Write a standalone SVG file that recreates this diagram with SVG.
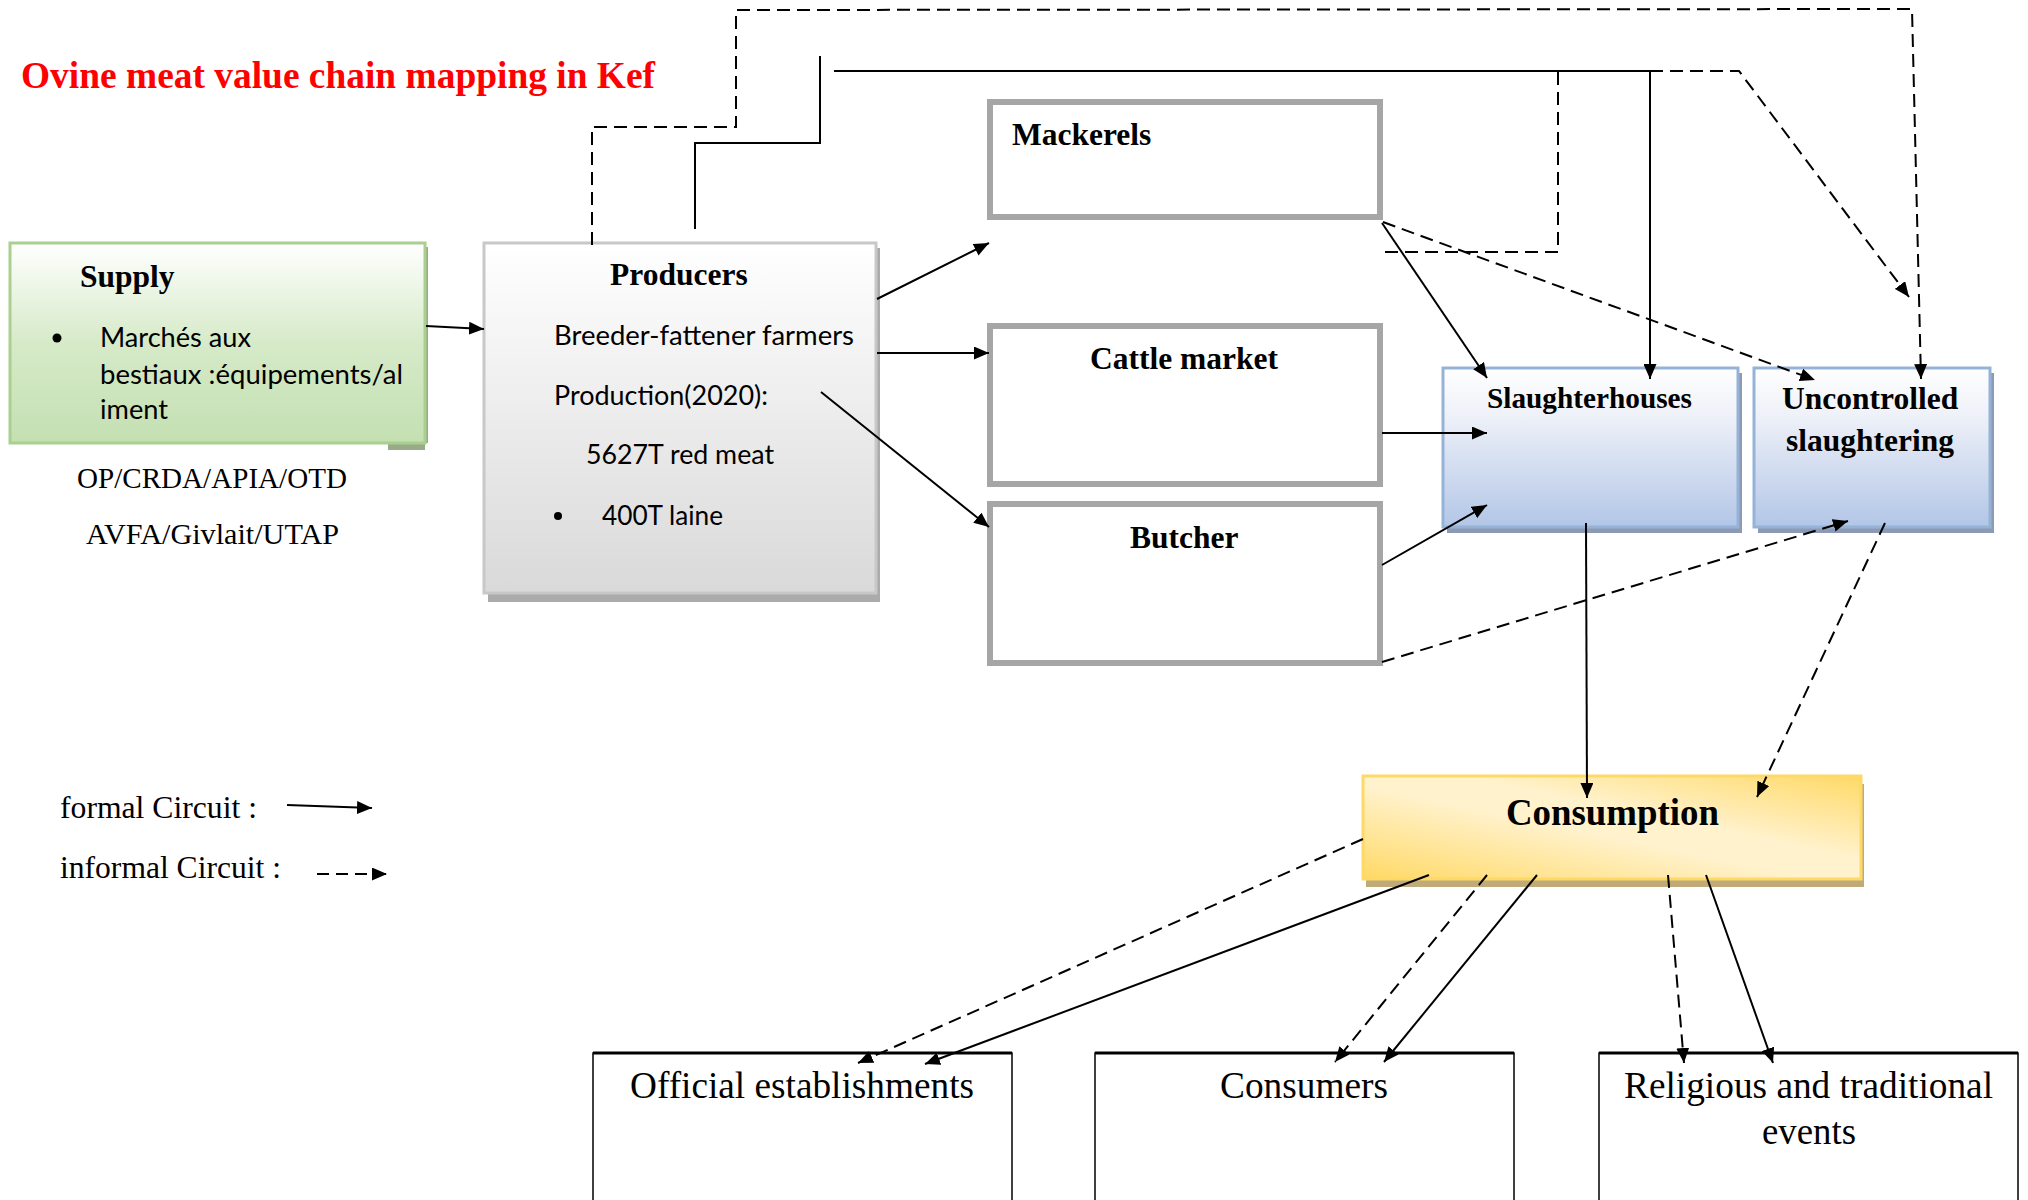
<svg xmlns="http://www.w3.org/2000/svg" width="2028" height="1200" viewBox="0 0 2028 1200">
  <defs>
    <style>
      .serif { font-family: "Liberation Serif", "Times New Roman", serif; }
      .sans { font-family: Lato, "Liberation Sans", sans-serif; font-size: 26px; fill: #000; }
      .bold { font-weight: bold; }
      .head { font-family: "Liberation Serif", "Times New Roman", serif; font-weight: bold; font-size: 31.5px; fill: #000; }
      .label { font-family: "Liberation Serif", "Times New Roman", serif; font-size: 37px; fill: #000; }
      .solid { fill: none; stroke: #000; stroke-width: 2; }
      .dash { fill: none; stroke: #000; stroke-width: 2; stroke-dasharray: 13 7; }
      .arr { marker-end: url(#ah); }
      .stage { fill: #fff; stroke: #a6a6a6; stroke-width: 6; }
      .outlet { fill: #fff; stroke: #000; stroke-width: 1.5; }
    </style>
    <marker id="ah" markerUnits="userSpaceOnUse" markerWidth="16" markerHeight="13" refX="15" refY="6.5" orient="auto">
      <path d="M0,0 L15,6.5 L0,13 z" fill="#000"/>
    </marker>
    <linearGradient id="gSupply" x1="0" y1="0" x2="0" y2="1">
      <stop offset="0" stop-color="#ffffff"/>
      <stop offset="0.5" stop-color="#d6eac8"/>
      <stop offset="1" stop-color="#c4e0b2"/>
    </linearGradient>
    <linearGradient id="gProd" x1="0" y1="0" x2="0" y2="1">
      <stop offset="0" stop-color="#ffffff"/>
      <stop offset="1" stop-color="#d9d9d9"/>
    </linearGradient>
    <linearGradient id="gBlue" x1="0" y1="0" x2="0" y2="1">
      <stop offset="0" stop-color="#ffffff"/>
      <stop offset="0.3" stop-color="#eef1f8"/>
      <stop offset="1" stop-color="#b3c6e7"/>
    </linearGradient>
    <linearGradient id="gGold" x1="0" y1="1" x2="1" y2="0">
      <stop offset="0" stop-color="#ffd966"/>
      <stop offset="0.45" stop-color="#fff2cc"/>
      <stop offset="0.6" stop-color="#fff2cc"/>
      <stop offset="1" stop-color="#ffd966"/>
    </linearGradient>
  </defs>

  <rect width="2028" height="1200" fill="#fff"/>

  <!-- Title -->
  <text class="serif bold" x="21" y="88" font-size="37" fill="#ff0000" textLength="634" lengthAdjust="spacingAndGlyphs">Ovine meat value chain mapping in Kef</text>

  <!-- Supply -->
  <g id="supply">
    <polygon points="388,443 428,443 428,247 425,247 425,450 388,450" fill="#99aa8a"/>
    <rect x="10" y="243" width="415" height="200" fill="url(#gSupply)" stroke="#a9d08e" stroke-width="3"/>
    <text class="head" x="80" y="287">Supply</text>
    <circle cx="57" cy="338" r="4.5" fill="#000"/>
    <text class="sans" x="100" y="347" textLength="151" lengthAdjust="spacingAndGlyphs">Marchés aux</text>
    <text class="sans" x="100" y="384" textLength="303" lengthAdjust="spacingAndGlyphs">bestiaux :équipements/al</text>
    <text class="sans" x="100" y="419" textLength="68" lengthAdjust="spacingAndGlyphs">iment</text>
  </g>

  <!-- Supporting organisations -->
  <g id="organisations">
    <text class="serif" x="77" y="488" font-size="29" textLength="270" lengthAdjust="spacingAndGlyphs">OP/CRDA/APIA/OTD</text>
    <text class="serif" x="86" y="544" font-size="29" textLength="253" lengthAdjust="spacingAndGlyphs">AVFA/Givlait/UTAP</text>
  </g>

  <!-- Producers -->
  <g id="producers">
    <rect x="488" y="248" width="392" height="354" fill="#ababab"/>
    <rect x="484" y="243" width="392" height="350" fill="url(#gProd)" stroke="#c8c8c8" stroke-width="3"/>
    <text class="head" x="610" y="285">Producers</text>
    <text class="sans" x="554" y="345" textLength="300" lengthAdjust="spacingAndGlyphs">Breeder-fattener farmers</text>
    <text class="sans" x="554" y="405" textLength="214" lengthAdjust="spacingAndGlyphs">Production(2020):</text>
    <text class="sans" x="586" y="464" textLength="188" lengthAdjust="spacingAndGlyphs">5627T red meat</text>
    <circle cx="558" cy="516" r="4" fill="#000"/>
    <text class="sans" x="602" y="525" textLength="121" lengthAdjust="spacingAndGlyphs">400T laine</text>
  </g>

  <!-- Intermediaries -->
  <g id="mackerels">
    <rect class="stage" x="990" y="102" width="390" height="115"/>
    <text class="head" x="1012" y="145">Mackerels</text>
  </g>
  <g id="cattle-market">
    <rect class="stage" x="990" y="326" width="390" height="158"/>
    <text class="head" x="1090" y="369">Cattle market</text>
  </g>
  <g id="butcher">
    <rect class="stage" x="990" y="504" width="390" height="159"/>
    <text class="head" x="1130" y="548">Butcher</text>
  </g>

  <!-- Slaughtering -->
  <g id="slaughterhouses">
    <rect x="1447" y="373" width="295" height="160" fill="#8d9ab3"/>
    <rect x="1443" y="368" width="295" height="159" fill="url(#gBlue)" stroke="#95b3d7" stroke-width="3"/>
    <text class="serif bold" x="1487" y="408" font-size="29" textLength="205" lengthAdjust="spacingAndGlyphs">Slaughterhouses</text>
  </g>
  <g id="uncontrolled-slaughtering">
    <rect x="1758" y="373" width="236" height="160" fill="#8d9ab3"/>
    <rect x="1754" y="368" width="236" height="159" fill="url(#gBlue)" stroke="#95b3d7" stroke-width="3"/>
    <text class="head" x="1782" y="409">Uncontrolled</text>
    <text class="head" x="1786" y="451">slaughtering</text>
  </g>

  <!-- Consumption -->
  <g id="consumption">
    <rect x="1366" y="784" width="498" height="103" fill="#bfab7a"/>
    <rect x="1363" y="776" width="498" height="103" fill="url(#gGold)" stroke="#ffd966" stroke-width="3"/>
    <text class="serif bold" x="1506" y="825" font-size="37" textLength="213" lengthAdjust="spacingAndGlyphs">Consumption</text>
  </g>

  <!-- Outlets -->
  <g id="official-establishments">
    <rect class="outlet" x="593" y="1053" width="419" height="160"/>
    <line x1="593" y1="1053" x2="1012" y2="1053" stroke="#000" stroke-width="3"/>
    <text class="label" x="630" y="1098" textLength="344" lengthAdjust="spacingAndGlyphs">Official establishments</text>
  </g>
  <g id="consumers">
    <rect class="outlet" x="1095" y="1053" width="419" height="160"/>
    <line x1="1095" y1="1053" x2="1514" y2="1053" stroke="#000" stroke-width="3"/>
    <text class="label" x="1220" y="1098" textLength="168" lengthAdjust="spacingAndGlyphs">Consumers</text>
  </g>
  <g id="religious-events">
    <rect class="outlet" x="1599" y="1053" width="419" height="160"/>
    <line x1="1599" y1="1053" x2="2018" y2="1053" stroke="#000" stroke-width="3"/>
    <text class="label" x="1624" y="1098" textLength="369" lengthAdjust="spacingAndGlyphs">Religious and traditional</text>
    <text class="label" x="1762" y="1144" textLength="94" lengthAdjust="spacingAndGlyphs">events</text>
  </g>

  <!-- Legend -->
  <g id="legend">
    <text class="serif" x="60" y="818" font-size="31" textLength="197" lengthAdjust="spacingAndGlyphs">formal Circuit :</text>
    <text class="serif" x="60" y="878" font-size="31" textLength="221" lengthAdjust="spacingAndGlyphs">informal Circuit :</text>
    <line class="solid arr" x1="287" y1="805" x2="372" y2="808"/>
    <line class="arr" x1="317" y1="874" x2="387" y2="874" stroke="#000" stroke-width="2" stroke-dasharray="12 7"/>
  </g>

  <!-- Connectors -->
  <g id="connectors">
    <!-- formal flows -->
    <line class="solid arr" x1="426" y1="326" x2="484" y2="329"/>
    <line class="solid arr" x1="877" y1="299" x2="989" y2="243"/>
    <line class="solid arr" x1="877" y1="353" x2="989" y2="353"/>
    <line class="solid arr" x1="821" y1="392" x2="989" y2="527"/>
    <polyline class="solid" points="695,229 695,143 820,143 820,56"/>
    <polyline class="solid arr" points="834,71 1650,71 1650,379" stroke-width="2.5"/>
    <line class="solid arr" x1="1382" y1="223" x2="1487" y2="378"/>
    <line class="solid arr" x1="1382" y1="433" x2="1487" y2="433"/>
    <line class="solid arr" x1="1382" y1="565" x2="1487" y2="505"/>
    <line class="solid arr" x1="1586" y1="523" x2="1587" y2="798"/>
    <line class="solid arr" x1="1429" y1="875" x2="925" y2="1064"/>
    <line class="solid arr" x1="1537" y1="875" x2="1384" y2="1062"/>
    <line class="solid arr" x1="1706" y1="875" x2="1773" y2="1063"/>

    <!-- informal flows -->
    <polyline class="dash arr" points="592,245 592,127 736,127 736,10 1912,9 1921,379"/>
    <polyline class="dash arr" points="1650,71 1739,71 1909,297"/>
    <polyline class="dash" points="1558,72 1558,252 1382,252"/>
    <line class="dash arr" x1="1383" y1="222" x2="1815" y2="380"/>
    <line class="dash arr" x1="1382" y1="662" x2="1848" y2="521"/>
    <line class="dash arr" x1="1885" y1="523" x2="1757" y2="797"/>
    <line class="dash arr" x1="1363" y1="839" x2="858" y2="1063"/>
    <line class="dash arr" x1="1487" y1="875" x2="1335" y2="1062"/>
    <line class="dash arr" x1="1668" y1="875" x2="1684" y2="1063"/>
  </g>
</svg>
